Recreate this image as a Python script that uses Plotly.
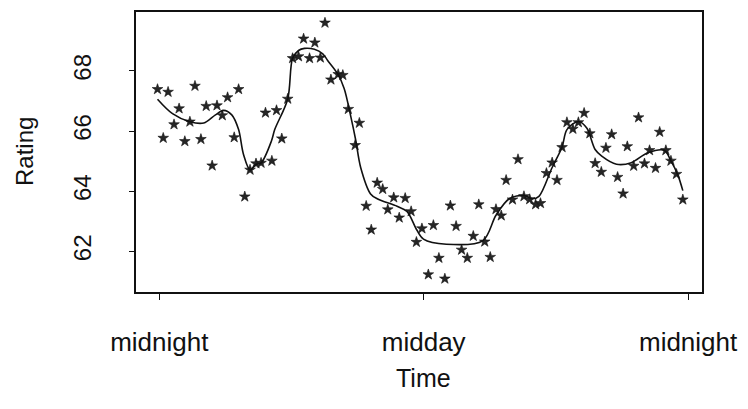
import plotly.graph_objects as go

# Observed ratings (time in hours after midnight)
times = [-0.08, 0.18, 0.40, 0.67, 0.90, 1.16, 1.39, 1.62, 1.89, 2.13,
         2.40, 2.62, 2.86, 3.10, 3.40, 3.60, 3.88, 4.12, 4.39, 4.62,
         4.82, 5.11, 5.32, 5.56, 5.83, 6.05, 6.32, 6.55, 6.82, 7.06,
         7.31, 7.52, 7.79, 8.12, 8.33, 8.58, 8.89, 9.08, 9.39, 9.62,
         9.89, 10.14, 10.37, 10.64, 10.89, 11.16, 11.43, 11.67, 11.92, 12.21,
         12.44, 12.69, 12.96, 13.21, 13.47, 13.72, 13.98, 14.25, 14.50, 14.77,
         15.02, 15.28, 15.52, 15.74, 16.03, 16.28, 16.55, 16.81, 17.08, 17.30,
         17.57, 17.83, 18.05, 18.28, 18.50, 18.77, 19.02, 19.28, 19.54, 19.78,
         20.06, 20.27, 20.53, 20.80, 21.05, 21.24, 21.53, 21.75, 22.02, 22.25,
         22.52, 22.71, 22.99, 23.22, 23.47, 23.76]
ratings = [67.39, 65.77, 67.30, 66.22, 66.75, 65.66, 66.31, 67.50, 65.73, 66.83,
           64.85, 66.85, 66.52, 67.12, 65.79, 67.39, 63.82, 64.71, 64.92, 64.94,
           66.61, 65.01, 66.69, 65.75, 67.07, 68.42, 68.48, 69.07, 68.42, 68.94,
           68.44, 69.60, 67.71, 67.89, 67.86, 66.73, 65.53, 66.27, 63.51, 62.72,
           64.28, 64.07, 63.39, 63.79, 63.12, 63.77, 63.33, 62.31, 62.76, 61.23,
           62.87, 61.78, 61.09, 63.52, 62.84, 62.05, 61.78, 62.51, 63.56, 62.32,
           61.81, 63.40, 63.19, 64.37, 63.72, 65.06, 63.83, 63.73, 63.56, 63.60,
           64.60, 64.95, 64.37, 65.46, 66.29, 66.07, 66.29, 66.60, 65.92, 64.93,
           64.64, 65.44, 65.89, 64.47, 63.92, 65.49, 64.84, 66.45, 64.92, 65.36,
           64.77, 65.97, 65.36, 65.01, 64.57, 63.72]

# Smoothed curve
smooth_t = [-0.08, 0.60, 1.39, 2.02, 2.55, 2.92, 3.29, 3.60, 3.82, 4.12, 4.39, 4.62,
            5.09, 5.24, 5.83, 6.05, 6.32, 6.59, 7.04, 7.42, 7.64, 8.09, 8.39, 8.69,
            8.91, 9.14, 9.59, 9.89, 10.79, 11.24, 11.69, 11.99, 13.03, 14.68, 15.28,
            15.88, 16.55, 16.93, 17.23, 17.83, 18.28, 18.50, 19.02, 19.40, 19.78,
            20.08, 20.75, 21.42, 22.17, 22.92, 23.22, 23.52, 23.76]
smooth_v = [67.06, 66.58, 66.31, 66.27, 66.54, 66.69, 66.54, 66.05, 65.23, 64.71, 64.90, 64.94,
            65.67, 66.05, 67.07, 68.42, 68.68, 68.75, 68.72, 68.57, 68.35, 67.91, 67.42, 66.49,
            65.72, 64.79, 63.91, 63.75, 63.50, 63.33, 62.71, 62.41, 62.24, 62.35, 63.20,
            63.75, 63.86, 63.75, 63.83, 64.79, 65.47, 66.05, 66.32, 66.10, 65.39,
            65.17, 64.90, 64.95, 65.28, 65.36, 65.01, 64.57, 64.02]

x_tick_vals = [0, 12, 24]
x_tick_text = ["midnight", "midday", "midnight"]
y_tick_vals = [62, 64, 66, 68]

FONT = "Liberation Sans, Arial, Helvetica, sans-serif"

fig = go.Figure()
fig.add_trace(go.Scatter(
    x=times, y=ratings, mode="markers",
    marker=dict(symbol="star", size=8, color="#262626",
                line=dict(color="#111111", width=0.6)),
    showlegend=False, cliponaxis=True))
fig.add_trace(go.Scatter(
    x=smooth_t, y=smooth_v, mode="lines",
    line=dict(color="#111111", width=1.6, shape="spline", smoothing=0.9),
    showlegend=False))

fig.update_layout(
    width=748, height=409,
    margin=dict(l=136, r=40, t=10, b=117),
    paper_bgcolor="white", plot_bgcolor="white",
    font=dict(family=FONT, color="#111111"),
    xaxis=dict(range=[-1.056, 24.63], tickvals=x_tick_vals, ticktext=x_tick_text,
               ticks="outside", ticklen=6, tickwidth=1.2, tickcolor="#111",
               showline=True, linecolor="#111", linewidth=1.8, mirror=True,
               showgrid=False, zeroline=False,
               tickfont=dict(size=26, family=FONT, color="#111"),
               ticklabelstandoff=20),
    yaxis=dict(range=[60.65, 69.96], tickvals=y_tick_vals,
               ticks="outside", ticklen=5, tickwidth=1.2, tickcolor="#111",
               showline=True, linecolor="#111", linewidth=1.8, mirror=True,
               showgrid=False, zeroline=False, tickangle=-90,
               tickfont=dict(size=24, family=FONT, color="#111"),
               ticklabelstandoff=29),
)

fig.add_annotation(text="Rating", xref="paper", yref="paper", x=0, y=0.5,
                   xanchor="center", yanchor="middle", xshift=-112, textangle=-90,
                   showarrow=False, font=dict(size=24, family=FONT, color="#111"))
fig.add_annotation(text="Time", xref="x", yref="paper", x=12, y=0,
                   xanchor="center", yanchor="middle", yshift=-86,
                   showarrow=False, font=dict(size=25, family=FONT, color="#111"))

fig.write_html("out.html", config={"displayModeBar": False},
               post_script="document.body.style.margin='0';document.body.style.overflow='hidden';")
